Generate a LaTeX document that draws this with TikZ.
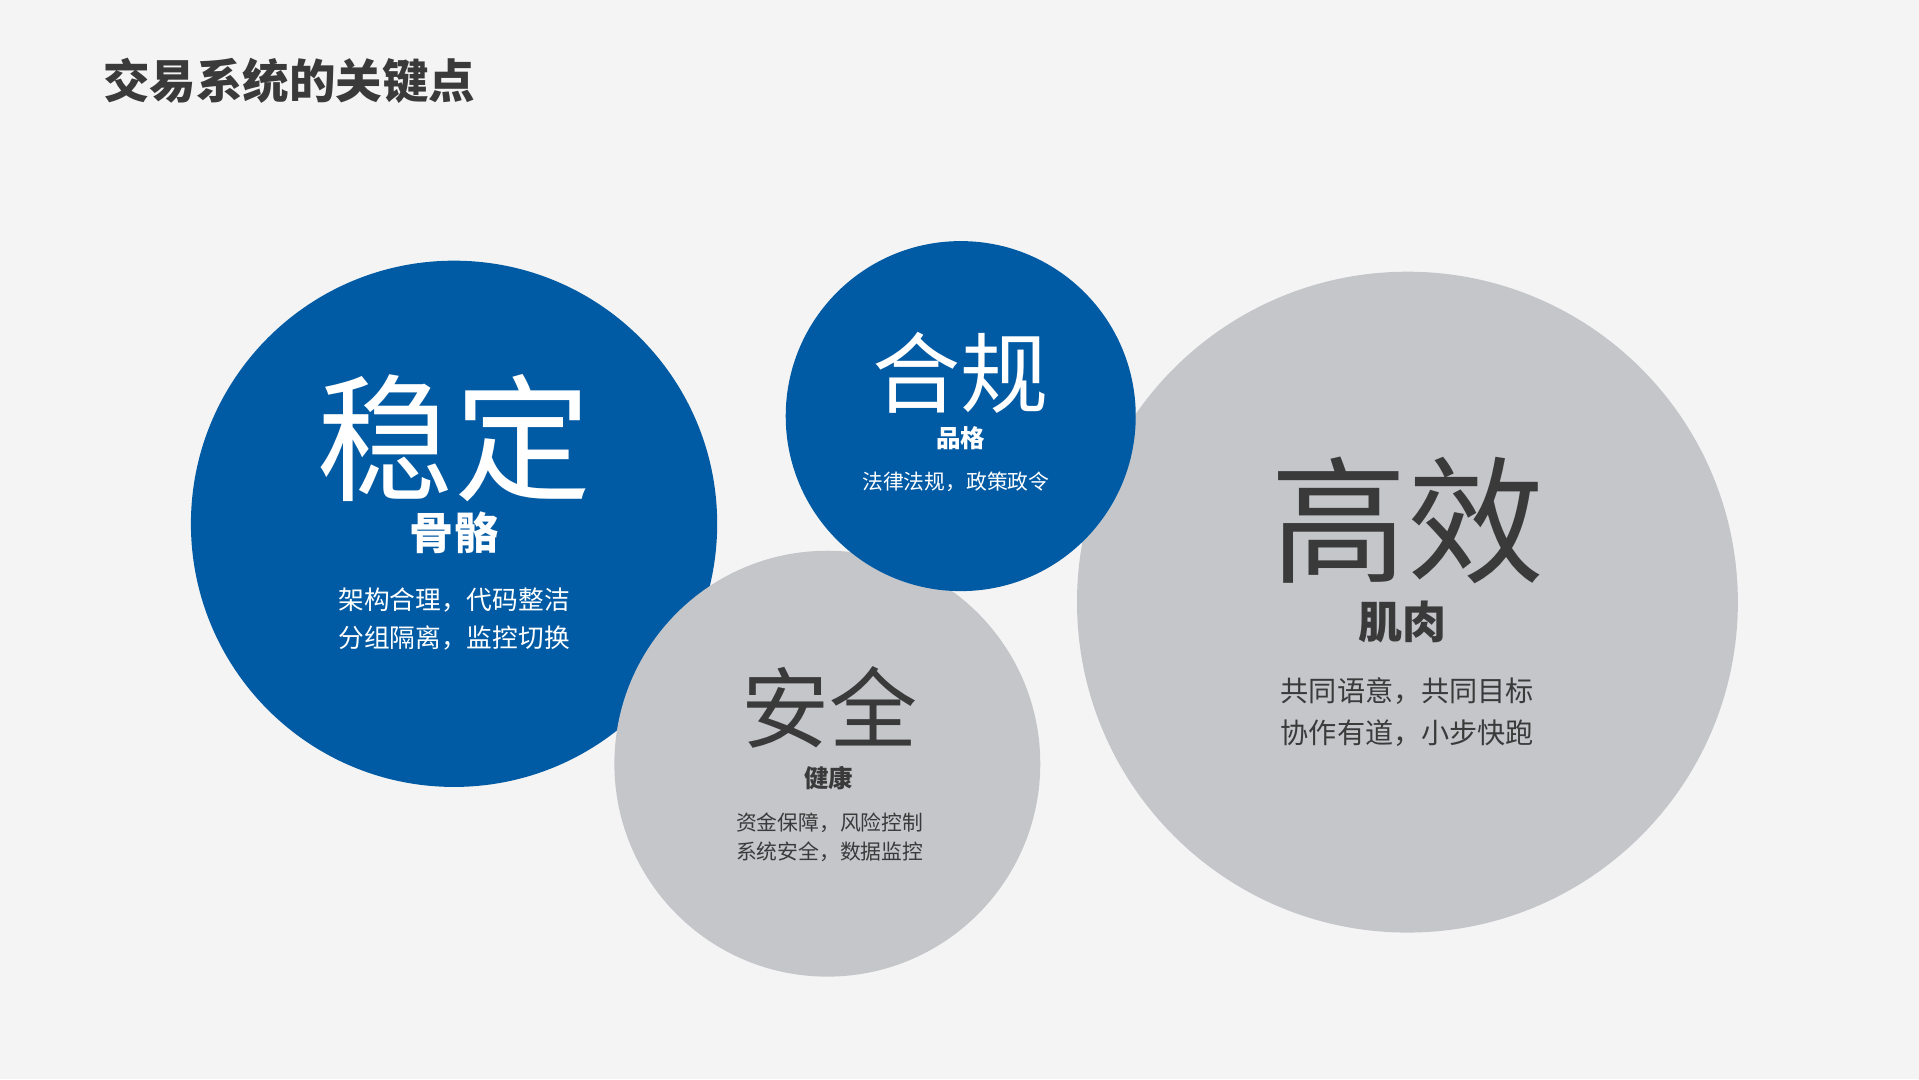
\documentclass[tikz,border=0pt]{standalone}
\usepackage{fontspec}
\setmainfont{Noto Sans CJK SC}
\definecolor{cblue}{HTML}{005BA4}
\definecolor{cgray}{HTML}{C4C6CA}
\definecolor{cdark}{HTML}{3A3A3A}
\definecolor{cbg}{HTML}{F4F4F4}
\tikzset{
 x=1pt,y=-1pt,
 big/.style={font=\fontsize{#1}{#1}\selectfont},
 txt/.style={align=center,inner sep=0pt},
}
\begin{document}
\begin{tikzpicture}
\fill[cbg] (0,0) rectangle (1568,882);
\useasboundingbox (0,0) rectangle (1568,882);
\node[txt,anchor=west,text=cdark,font=\fontsize{38}{38}\selectfont\bfseries] (title) at (84,66) {交易系统的关键点};
\fill[cblue] (371,428) circle (215);
\fill[cgray] (676,624) circle (174);
\fill[cgray] (1150,492) circle (270);
\fill[cblue] (785,340) circle (143);
% stable
\node[txt,text=white,big=112] (s1) at (371,358) {稳定};
\node[txt,text=white,font=\fontsize{36}{36}\selectfont\bfseries] (s2) at (371,435) {骨骼};
\node[txt,text=white,font=\fontsize{21}{31}\selectfont] (s3) at (371,506) {架构合理，代码整洁\\分组隔离，监控切换};
% compliance
\node[txt,text=white,big=72] (c1) at (785,305) {合规};
\node[txt,text=white,font=\fontsize{20}{20}\selectfont\bfseries] (c2) at (785,358) {品格};
\node[txt,text=white,font=\fontsize{17}{17}\selectfont] (c3) at (781,394) {法律法规，政策政令};
% security
\node[txt,text=cdark,big=72] (a1) at (678,578) {安全};
\node[txt,text=cdark,font=\fontsize{20}{20}\selectfont\bfseries] (a2) at (677,636) {健康};
\node[txt,text=cdark,font=\fontsize{17}{24}\selectfont] (a3) at (678,684) {资金保障，风险控制\\系统安全，数据监控};
% efficient
\node[txt,text=cdark,big=112] (e1) at (1150,425) {高效};
\node[txt,text=cdark,font=\fontsize{36}{36}\selectfont\bfseries] (e2) at (1146,508) {肌肉};
\node[txt,text=cdark,font=\fontsize{23}{34}\selectfont] (e3) at (1150,582) {共同语意，共同目标\\协作有道，小步快跑};
\end{tikzpicture}
\end{document}
